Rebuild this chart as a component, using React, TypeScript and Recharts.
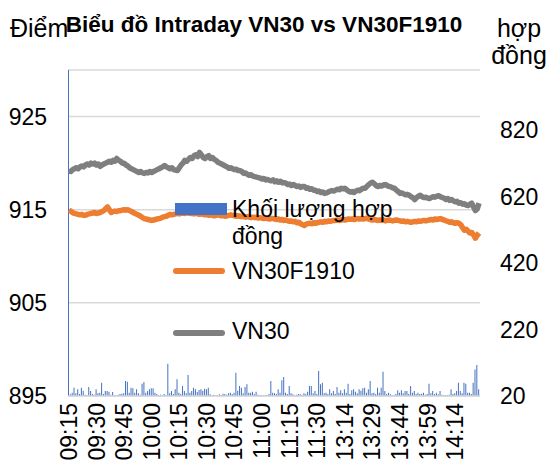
import React from 'react';
import {
  ComposedChart,
  Bar,
  Line,
  XAxis,
  YAxis,
  CartesianGrid,
  Legend,
} from 'recharts';

// trading sessions, one category per minute
const sessions: Array<[string, string]> = [
  ['09:15', '11:30'],
  ['13:00', '14:27'],
];

const toMin = (s: string) => {
  const [h, m] = s.split(':').map(Number);
  return h * 60 + m;
};
const pad = (n: number) => (n < 10 ? '0' + n : '' + n);

const times: string[] = [];
sessions.forEach(([a, b]) => {
  for (let m = toMin(a); m <= toMin(b); m++) {
    times.push(`${pad(Math.floor(m / 60))}:${pad(m % 60)}`);
  }
});

// Khối lượng hợp đồng (right axis)
const volume = [
  1200, 25, 30, 45, 28, 40, 26, 45, 35, 24,
  22, 47, 35, 26, 24, 40, 28, 30, 60, 26,
  35, 35, 33, 24, 32, 22, 21, 24, 26, 27,
  28, 65, 63, 30, 45, 43, 30, 40, 28, 24,
  57, 62, 30, 35, 40, 43, 43, 30, 26, 22,
  24, 21, 26, 22, 117, 28, 35, 26, 40, 70,
  30, 26, 50, 35, 28, 83, 30, 35, 45, 40,
  32, 38, 40, 36, 42, 40, 45, 25, 22, 24,
  21, 22, 25, 23, 27, 26, 24, 28, 30, 26,
  30, 90, 36, 50, 45, 28, 47, 55, 30, 30,
  33, 26, 33, 24, 23, 22, 21, 23, 22, 26,
  65, 30, 28, 26, 40, 30, 67, 77, 30, 26,
  50, 28, 25, 22, 24, 26, 25, 23, 28, 26,
  33, 50, 50, 28, 35, 26, 95, 55, 60, 28,
  30, 26, 40, 28, 35, 26, 47, 30, 37, 28,
  40, 30, 57, 26, 37, 40, 33, 28, 40, 36,
  43, 45, 30, 40, 65, 28, 30, 26, 45, 30,
  45, 93, 35, 26, 30, 25, 22, 23, 26, 37,
  30, 37, 28, 35, 35, 26, 50, 30, 35, 26,
  30, 26, 27, 30, 24, 26, 57, 28, 35, 26,
  30, 25, 35, 24, 23, 22, 23, 24, 40, 26,
  28, 35, 60, 35, 28, 60, 57, 30, 30, 26,
  60, 100, 113, 40,
];

// VN30F1910 (left axis)
const vn30f = [
  914.95, 914.85, 914.7, 914.6, 914.55, 914.5, 914.45, 914.5, 914.4, 914.4,
  914.5, 914.55, 914.6, 914.65, 914.7, 914.6, 914.65, 914.7, 914.8, 914.9,
  915.1, 915.3, 915.0, 914.7, 914.8, 914.85, 914.8, 914.9, 914.9, 914.95,
  915.0, 914.95, 915.0, 914.9, 914.8, 914.7, 914.6, 914.5, 914.4, 914.3,
  914.15, 914.05, 914.0, 913.95, 913.9, 913.85, 913.9, 913.95, 914.0, 914.05,
  914.1, 914.2, 914.25, 914.3, 914.4, 914.5, 914.45, 914.5, 914.55, 914.6,
  914.55, 914.6, 914.65, 914.6, 914.7, 914.65, 914.6, 914.6, 914.55, 914.6,
  914.55, 914.5, 914.55, 914.5, 914.45, 914.5, 914.4, 914.45, 914.4, 914.35,
  914.4, 914.45, 914.4, 914.35, 914.4, 914.3, 914.35, 914.4, 914.45, 914.4,
  914.35, 914.3, 914.35, 914.3, 914.25, 914.3, 914.2, 914.25, 914.2, 914.15,
  914.2, 914.15, 914.2, 914.1, 914.15, 914.1, 914.05, 914.1, 914.05, 914.0,
  914.05, 914.05, 914.0, 913.95, 914.0, 913.9, 913.95, 913.85, 913.9, 913.8,
  913.75, 913.8, 913.7, 913.75, 913.6, 913.65, 913.5, 913.4, 913.3, 913.45,
  913.5, 913.55, 913.5, 913.6, 913.55, 913.6, 913.65, 913.7, 913.65, 913.75,
  913.7, 913.8, 913.75, 913.8, 913.85, 913.85, 913.9, 913.85, 913.9, 913.95,
  913.9, 913.95, 914.0, 913.97, 914.0, 913.95, 914.0, 914.05, 914.0, 914.05,
  914.0, 914.05, 914.1, 914.0, 913.95, 913.9, 913.95, 913.9, 913.85, 913.9,
  913.85, 913.9, 913.8, 913.85, 913.9, 913.85, 913.8, 913.85, 913.9, 913.85,
  913.8, 913.75, 913.8, 913.7, 913.75, 913.7, 913.65, 913.7, 913.75, 913.7,
  913.8, 913.75, 913.8, 913.85, 913.8, 913.85, 913.9, 913.95, 913.9, 914.0,
  913.95, 914.0, 914.05, 913.95, 913.9, 913.8, 913.75, 913.65, 913.7, 913.6,
  913.55, 913.6, 913.55, 913.4, 913.1, 912.8, 912.9, 912.7, 912.5, 912.55,
  912.3, 911.95, 912.25, 912.5,
];

// VN30 (left axis)
const vn30 = [
  919.2, 919.1, 919.3, 919.4, 919.5, 919.4, 919.6, 919.7, 919.6, 919.8,
  919.9, 919.8, 920.0, 919.9, 920.0, 919.8, 919.9, 919.65, 919.8, 919.9,
  920.0, 920.1, 920.2, 920.1, 920.3, 920.2, 920.5, 920.3, 920.2, 920.0,
  920.0, 919.8, 919.7, 919.5, 919.4, 919.3, 919.2, 919.1, 919.0, 919.1,
  918.95, 918.9, 919.0, 918.95, 919.1, 919.0, 919.1, 919.2, 919.3, 919.4,
  919.5, 919.6, 919.75, 919.6, 919.5, 919.4, 919.5, 919.3, 919.25, 919.2,
  919.5, 919.8, 920.0, 920.3, 920.2, 920.4, 920.6, 920.5, 920.8, 920.9,
  920.7, 921.15, 920.9, 920.6, 920.5, 920.7, 920.8, 920.5, 920.6, 920.4,
  920.3, 920.1, 920.0, 919.9, 919.8, 919.7, 919.6, 919.45, 919.5, 919.4,
  919.3, 919.35, 919.2, 919.2, 919.1, 918.9, 918.95, 918.8, 918.7, 918.75,
  918.6, 918.55, 918.5, 918.45, 918.4, 918.3, 918.35, 918.2, 918.25, 918.15,
  918.1, 918.2, 918.0, 918.1, 917.95, 918.05, 917.9, 917.9, 917.85, 917.7,
  917.75, 917.6, 917.7, 917.6, 917.5, 917.55, 917.4, 917.5, 917.5, 917.3,
  917.35, 917.2, 917.25, 917.1, 917.1, 916.95, 917.0, 916.85, 916.9, 916.75,
  916.8, 916.9, 917.0, 917.05, 917.0, 917.1, 917.2, 917.15, 917.3, 917.25,
  917.3, 917.15, 917.0, 916.9, 916.95, 916.85, 917.0, 917.1, 917.05, 917.2,
  917.3, 917.3, 917.5, 917.7, 917.85, 917.95, 917.8, 917.6, 917.5, 917.6,
  917.55, 917.65, 917.7, 917.6, 917.5, 917.45, 917.35, 917.3, 917.1, 916.95,
  916.75, 916.8, 916.7, 916.6, 916.65, 916.55, 916.4, 916.3, 916.1, 916.3,
  916.45, 916.55, 916.4, 916.3, 916.35, 916.25, 916.2, 916.3, 916.4, 916.35,
  916.45, 916.5, 916.4, 916.3, 916.25, 916.1, 916.2, 916.0, 916.1, 915.95,
  915.85, 915.9, 915.7, 915.75, 915.6, 915.65, 915.5, 915.45, 915.6, 915.7,
  915.3, 914.9, 915.1, 915.7,
];

const leftTicks = [895, 905, 915, 925];
const rightTicks = [20, 220, 420, 620, 820];

const data = times.map((t, i) => ({
  time: t,
  vol: volume[i],
  f1910: vn30f[i],
  vn30: vn30[i],
}));

const FONT = '"Liberation Sans", Arial, sans-serif';
const BLUE = '#4472C4';
const ORANGE = '#ED7D31';
const GRAY = '#7F7F7F';

const TimeTick = (props: any) => {
  const { x, payload } = props;
  const y = 403;
  return (
    <text
      x={x}
      y={y}
      transform={`rotate(-90, ${x}, ${y})`}
      textAnchor="end"
      dominantBaseline="central"
      fontSize={23}
      fontFamily={FONT}
      fill="#000"
    >
      {payload.value}
    </text>
  );
};

const legendText: React.CSSProperties = {
  position: 'absolute',
  left: 232,
  fontSize: 23,
  lineHeight: '27px',
  fontFamily: FONT,
  color: '#000',
  whiteSpace: 'nowrap',
};

const ChartLegend = () => (
  <div style={{ position: 'relative', width: 550, height: 469 }}>
    <div style={{ position: 'absolute', left: 175, top: 203, width: 52, height: 12, background: BLUE }} />
    <div style={{ ...legendText, top: 196 }}>
      Khối lượng hợp
      <br />
      đồng
    </div>
    <div style={{ position: 'absolute', left: 173, top: 268, width: 52, height: 6, borderRadius: 3, background: ORANGE }} />
    <div style={{ ...legendText, top: 258 }}>VN30F1910</div>
    <div style={{ position: 'absolute', left: 173, top: 330, width: 52, height: 6, borderRadius: 3, background: GRAY }} />
    <div style={{ ...legendText, top: 318 }}>VN30</div>
  </div>
);

export default function App() {
  return (
    <div style={{ position: 'absolute', left: 0, top: 0, width: 550, height: 469, background: '#fff', fontFamily: FONT }}>
      <ComposedChart
        width={550}
        height={469}
        data={data}
        margin={{ top: 70, right: 0, bottom: 0, left: 0 }}
        barCategoryGap={0}
      >
        <CartesianGrid yAxisId="left" vertical={false} stroke="#D9D9D9" strokeWidth={1.5} />
        <XAxis
          dataKey="time"
          interval={14}
          height={73}
          tickLine={false}
          axisLine={{ stroke: '#D9D9D9', strokeWidth: 1.5 }}
          tick={<TimeTick />}
        />
        <YAxis
          yAxisId="left"
          orientation="left"
          width={68}
          domain={[895, 930]}
          ticks={leftTicks}
          allowDataOverflow
          axisLine={false}
          tickLine={false}
          tickSize={0}
          tickMargin={21}
          tick={{ fontSize: 23, fill: '#000', fontFamily: FONT }}
        />
        <YAxis
          yAxisId="right"
          orientation="right"
          width={70}
          domain={[20, 1000]}
          ticks={rightTicks}
          allowDataOverflow
          axisLine={false}
          tickLine={false}
          tickSize={0}
          tickMargin={20}
          tick={{ fontSize: 23, fill: '#000', fontFamily: FONT, textAnchor: 'start' }}
        />
        <Legend
          layout="vertical"
          align="center"
          verticalAlign="middle"
          wrapperStyle={{ left: 0, top: 0, width: 550, height: 469, pointerEvents: 'none' }}
          content={<ChartLegend />}
        />
        <Bar yAxisId="right" dataKey="vol" name="Khối lượng hợp đồng" fill={BLUE} barSize={1} isAnimationActive={false} />
        <Line
          yAxisId="left"
          dataKey="f1910"
          name="VN30F1910"
          stroke={ORANGE}
          strokeWidth={5.5}
          strokeLinejoin="round"
          dot={false}
          activeDot={false}
          type="linear"
          isAnimationActive={false}
        />
        <Line
          yAxisId="left"
          dataKey="vn30"
          name="VN30"
          stroke={GRAY}
          strokeWidth={5.5}
          strokeLinejoin="round"
          dot={false}
          activeDot={false}
          type="linear"
          isAnimationActive={false}
        />
      </ComposedChart>

      <div
        style={{
          position: 'absolute',
          left: 0,
          top: 12,
          width: 528,
          textAlign: 'center',
          fontSize: 22.5,
          fontWeight: 'bold',
          lineHeight: '26px',
          whiteSpace: 'nowrap',
        }}
      >
        Biểu đồ Intraday VN30 vs VN30F1910
      </div>
      <div style={{ position: 'absolute', left: 10, top: 14, fontSize: 25, lineHeight: '28px' }}>Điểm</div>
      <div
        style={{
          position: 'absolute',
          left: 477,
          top: 15,
          width: 84,
          textAlign: 'center',
          fontSize: 25,
          lineHeight: '27px',
        }}
      >
        hợp
        <br />
        đồng
      </div>
    </div>
  );
}
